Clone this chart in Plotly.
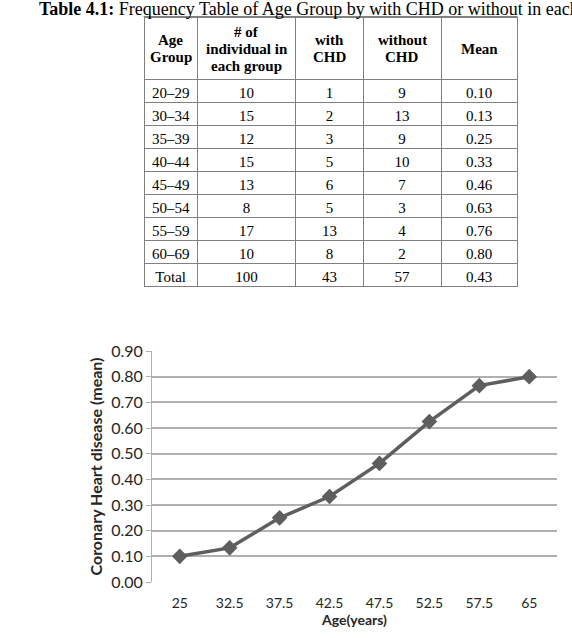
import plotly.graph_objects as go

W, H = 572, 638

# ---- Table data ----
age_groups = ["20–29", "30–34", "35–39", "40–44", "45–49", "50–54", "55–59", "60–69", "Total"]
n_individuals = [10, 15, 12, 15, 13, 8, 17, 10, 100]
with_chd = [1, 2, 3, 5, 6, 5, 13, 8, 43]
without_chd = [9, 13, 9, 10, 7, 3, 4, 2, 57]
mean_vals = ["0.10", "0.13", "0.25", "0.33", "0.46", "0.63", "0.76", "0.80", "0.43"]
header_lines = [["Age", "Group"], ["# of", "individual in", "each group"],
                ["with", "CHD"], ["without", "CHD"], ["Mean"]]

# ---- Chart data ----
age_mid = ["25", "32.5", "37.5", "42.5", "47.5", "52.5", "57.5", "65"]
chd_mean = [0.10, 0.133, 0.25, 0.333, 0.462, 0.625, 0.765, 0.80]
y_ticks = [0.0, 0.1, 0.2, 0.3, 0.4, 0.5, 0.6, 0.7, 0.8, 0.9]

def px_x(p):
    return p / W

def px_y(p):
    return 1 - p / H

TBL_L, TBL_R, TBL_T = 144, 517, 17
HEAD_H, ROW_H = 62, 23
col_w = [54, 100, 68, 79, 77]

fig = go.Figure()

fig.add_trace(go.Table(
    domain=dict(x=[px_x(TBL_L), px_x(TBL_R)], y=[px_y(TBL_T + HEAD_H + ROW_H * len(age_groups) + 4), px_y(TBL_T)]),
    columnwidth=col_w,
    header=dict(
        values=[""] * len(header_lines),
        height=HEAD_H,
        align="center",
        line=dict(color="#808080", width=1),
        fill=dict(color="white"),
        font=dict(family="Liberation Serif", size=15, color="black"),
    ),
    cells=dict(
        values=[age_groups, n_individuals, with_chd, without_chd, mean_vals],
        height=ROW_H,
        align="center",
        line=dict(color="#808080", width=1),
        fill=dict(color="white"),
        font=dict(family="Liberation Serif", size=15, color="black"),
    ),
))

# top border of the table
fig.add_shape(type="line", xref="paper", yref="paper",
              x0=px_x(TBL_L - 0.5), x1=px_x(TBL_R + 0.5), y0=px_y(TBL_T - 0.5), y1=px_y(TBL_T - 0.5),
              line=dict(color="#808080", width=1))

# header labels (centred per line, like the original)
scale = (TBL_R - TBL_L) / sum(col_w)
left = TBL_L
for w, lines in zip(col_w, header_lines):
    cx = left + w * scale / 2
    n = len(lines)
    for i, ln in enumerate(lines):
        cy = TBL_T + 32 + (i - (n - 1) / 2) * 17
        fig.add_annotation(
            xref="paper", yref="paper", x=px_x(cx), y=px_y(cy),
            xanchor="center", yanchor="middle", showarrow=False,
            text="<b>" + ln + "</b>",
            font=dict(family="Liberation Serif", size=15, color="black"),
        )
    left += w * scale

fig.add_trace(go.Scatter(
    x=age_mid, y=chd_mean,
    mode="lines+markers",
    line=dict(color="#5e5e5e", width=3.5),
    marker=dict(symbol="diamond", size=12, color="#5e5e5e"),
    showlegend=False,
    cliponaxis=False,
))

fig.add_annotation(
    xref="paper", yref="paper", x=px_x(37), y=px_y(9),
    xanchor="left", yanchor="middle",
    text="<b>Table 4.1:</b> Frequency Table of Age Group by with CHD or without in each group",
    showarrow=False,
    font=dict(family="Liberation Serif", size=18, color="black"),
)

fig.update_layout(
    width=W, height=H,
    margin=dict(l=0, r=0, t=0, b=0, autoexpand=False),
    paper_bgcolor="white", plot_bgcolor="white",
    font=dict(family="Lato", size=14, color="#262626"),
    xaxis=dict(
        domain=[px_x(152), px_x(557)],
        type="category", automargin=False,
        showgrid=False, zeroline=False,
        showline=False,
        ticks="outside", ticklen=8, tickcolor="rgba(0,0,0,0)",
        tickfont=dict(family="Lato", size=14, color="#262626"),
        title=dict(text="<b>Age(years)</b>", font=dict(family="Lato", size=14, color="#262626"), standoff=0),
    ),
    yaxis=dict(
        domain=[px_y(582), px_y(351)],
        range=[0, 0.9], automargin=False,
        tickvals=y_ticks,
        tickformat=".2f",
        showgrid=True, gridcolor="#b0b0b0", gridwidth=1.5,
        zeroline=False,
        showline=True, linecolor="#b0b0b0", linewidth=1,
        ticks="outside", ticklen=5, tickcolor="#b0b0b0",
        tickfont=dict(family="Lato", size=16, color="#262626"),
        title=dict(text="<b>Coronary Heart disease (mean)</b>", font=dict(family="Lato", size=16, color="#262626"), standoff=4),
    ),
)

fig.write_html("out.html")
